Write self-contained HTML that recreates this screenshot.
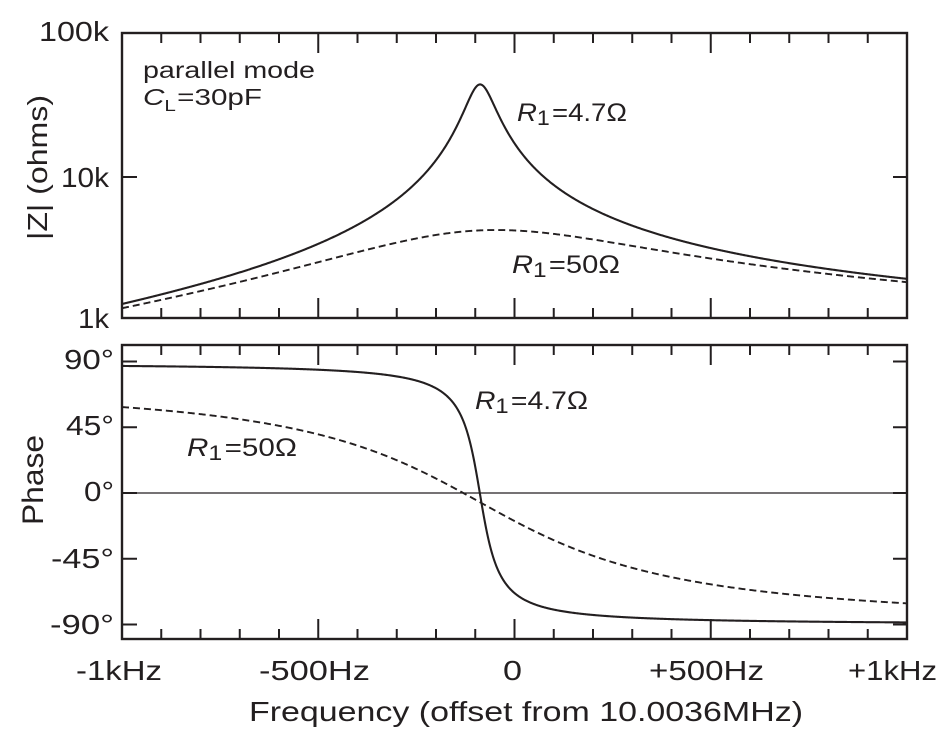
<!DOCTYPE html>
<html>
<head>
<meta charset="utf-8">
<style>
  html,body{margin:0;padding:0;background:#fff;}
  svg{display:block;}
  text{font-family:"Liberation Sans",Arial,Helvetica,sans-serif;fill:#231f20;}
</style>
</head>
<body>
<svg id="chart" width="952" height="748" viewBox="0 0 952 748" xmlns="http://www.w3.org/2000/svg">
  <rect x="0" y="0" width="952" height="748" fill="#fff"/>
  <defs>
    <clipPath id="clipTop"><rect x="122" y="33" width="785" height="285"/></clipPath>
    <clipPath id="clipBot"><rect x="122" y="345" width="785" height="294"/></clipPath>
  </defs>

  <!-- zero line -->
  <line x1="122" y1="493" x2="907" y2="493" stroke="#231f20" stroke-width="1.2"/>

  <!-- curves (generated) -->
  <g clip-path="url(#clipTop)">
    <path id="magSolid" d="" fill="none" stroke="#231f20" stroke-width="2.1" stroke-linejoin="round"/>
    <path id="magDash" d="" fill="none" stroke="#231f20" stroke-width="1.9" stroke-dasharray="7 4"/>
  </g>
  <g clip-path="url(#clipBot)">
    <path id="phSolid" d="" fill="none" stroke="#231f20" stroke-width="2.1" stroke-linejoin="round"/>
    <path id="phDash" d="" fill="none" stroke="#231f20" stroke-width="1.9" stroke-dasharray="7 4"/>
  </g>

  <!-- frames -->
  <rect x="122" y="33" width="785" height="285" fill="none" stroke="#231f20" stroke-width="2.4"/>
  <rect x="122" y="345" width="785" height="294" fill="none" stroke="#231f20" stroke-width="2.4"/>

  <g id="ticks" stroke="#231f20" stroke-width="2"></g>

  <!-- top panel y labels -->
  <text x="109" y="41" font-size="28" text-anchor="end" textLength="70" lengthAdjust="spacingAndGlyphs">100k</text>
  <text x="109" y="187" font-size="28" text-anchor="end" textLength="48" lengthAdjust="spacingAndGlyphs">10k</text>
  <text x="109" y="328" font-size="28" text-anchor="end" textLength="31" lengthAdjust="spacingAndGlyphs">1k</text>

  <!-- bottom panel y labels -->
  <text x="114" y="369" font-size="28" text-anchor="end" textLength="50" lengthAdjust="spacingAndGlyphs">90°</text>
  <text x="114" y="435" font-size="28" text-anchor="end" textLength="48" lengthAdjust="spacingAndGlyphs">45°</text>
  <text x="114" y="501" font-size="28" text-anchor="end" textLength="30" lengthAdjust="spacingAndGlyphs">0°</text>
  <text x="114" y="568" font-size="28" text-anchor="end" textLength="63" lengthAdjust="spacingAndGlyphs">-45°</text>
  <text x="114" y="634" font-size="28" text-anchor="end" textLength="64" lengthAdjust="spacingAndGlyphs">-90°</text>

  <!-- x tick labels -->
  <text x="76" y="680" font-size="28" textLength="86" lengthAdjust="spacingAndGlyphs">-1kHz</text>
  <text x="259" y="680" font-size="28" textLength="111" lengthAdjust="spacingAndGlyphs">-500Hz</text>
  <text x="503" y="680" font-size="28" textLength="19" lengthAdjust="spacingAndGlyphs">0</text>
  <text x="649" y="680" font-size="28" textLength="115" lengthAdjust="spacingAndGlyphs">+500Hz</text>
  <text x="848" y="680" font-size="28" textLength="89" lengthAdjust="spacingAndGlyphs">+1kHz</text>

  <!-- x axis title -->
  <text x="249" y="721" font-size="28" textLength="554" lengthAdjust="spacingAndGlyphs">Frequency (offset from 10.0036MHz)</text>

  <!-- y axis titles -->
  <text transform="translate(47,240) rotate(-90)" font-size="28" textLength="145" lengthAdjust="spacingAndGlyphs">|Z| (ohms)</text>
  <text transform="translate(43,525) rotate(-90)" font-size="30" textLength="90" lengthAdjust="spacingAndGlyphs">Phase</text>

  <!-- annotations -->
  <text x="143" y="78" font-size="23" textLength="172" lengthAdjust="spacingAndGlyphs">parallel mode</text>
  <text x="143" y="105" font-size="23" textLength="119" lengthAdjust="spacingAndGlyphs"><tspan font-style="italic">C</tspan><tspan font-size="16" dy="6">L</tspan><tspan dy="-6" dx="1">=30pF</tspan></text>

  <text x="517" y="121" font-size="25" textLength="110" lengthAdjust="spacingAndGlyphs"><tspan font-style="italic">R</tspan><tspan font-size="21" dy="4">1</tspan><tspan dy="-4" dx="2">=4.7Ω</tspan></text>
  <text x="512" y="273" font-size="25" textLength="108" lengthAdjust="spacingAndGlyphs"><tspan font-style="italic">R</tspan><tspan font-size="21" dy="4">1</tspan><tspan dy="-4" dx="2">=50Ω</tspan></text>
  <text x="475" y="409" font-size="25" textLength="113" lengthAdjust="spacingAndGlyphs"><tspan font-style="italic">R</tspan><tspan font-size="21" dy="4">1</tspan><tspan dy="-4" dx="2">=4.7Ω</tspan></text>
  <text x="187" y="456" font-size="25" textLength="110" lengthAdjust="spacingAndGlyphs"><tspan font-style="italic">R</tspan><tspan font-size="21" dy="4">1</tspan><tspan dy="-4" dx="2">=50Ω</tspan></text>
</svg>

<script>
(function(){
  var B=2.21e-3, k=0.1315, f0=-88;
  function Z(f,R){
    var X=1/B+k*(f-f0);
    var dr=1-B*X, di=B*R;
    var den=dr*dr+di*di;
    var zr=(R*dr+X*di)/den, zi=(X*dr-R*di)/den;
    return [Math.sqrt(zr*zr+zi*zi), Math.atan2(zi,zr)*180/Math.PI];
  }
  function xOf(f){return 122+(f+1000)/2000*785;}
  function yMag(z){return 33+(5-Math.log10(z))*142.5;}
  function yPh(d){return 493-d*1.4611;}
  function build(R,which){
    var d="";
    for(var i=0;i<=1000;i++){
      var f=-1000+i*2;
      var r=Z(f,R);
      var x=xOf(f), y=which===0?yMag(r[0]):yPh(r[1]);
      d+=(i===0?"M":"L")+x.toFixed(2)+" "+y.toFixed(2);
    }
    return d;
  }
  document.getElementById("magSolid").setAttribute("d",build(4.7,0));
  document.getElementById("magDash").setAttribute("d",build(50,0));
  document.getElementById("phSolid").setAttribute("d",build(4.7,1));
  document.getElementById("phDash").setAttribute("d",build(50,1));

  var g=document.getElementById("ticks");
  var ns="http://www.w3.org/2000/svg";
  function ln(x1,y1,x2,y2){
    var l=document.createElementNS(ns,"line");
    l.setAttribute("x1",x1);l.setAttribute("y1",y1);
    l.setAttribute("x2",x2);l.setAttribute("y2",y2);
    g.appendChild(l);
  }
  var panels=[[33,318],[345,639]];
  for(var p=0;p<2;p++){
    var top=panels[p][0], bot=panels[p][1];
    for(var i=-9;i<=9;i++){
      var x=xOf(i*100);
      var len=(i%5===0)?20:10;
      ln(x,top,x,top+len);
      ln(x,bot,x,bot-len);
    }
  }
  ln(122,177,137,177); ln(907,177,893,177);
  [90,45,0,-45,-90].forEach(function(d){
    var y=yPh(d);
    ln(122,y,137,y); ln(907,y,893,y);
  });
})();
</script>
</body>
</html>
